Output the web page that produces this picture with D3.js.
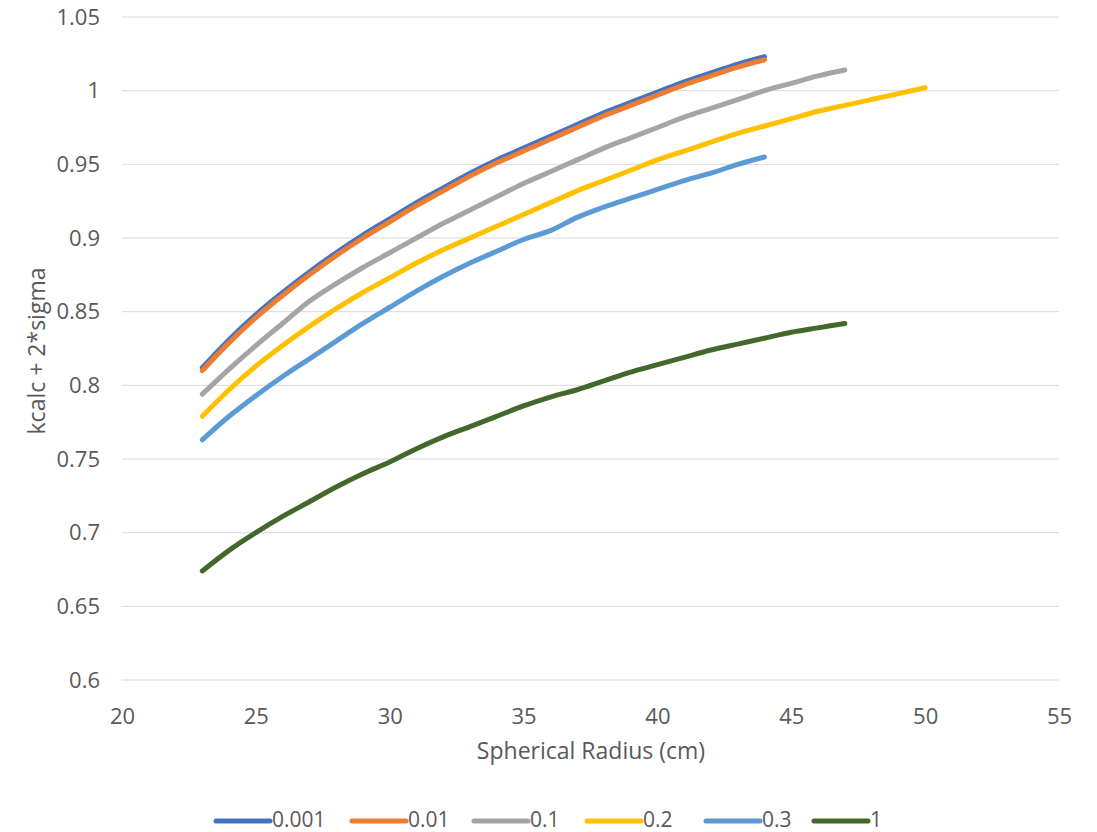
<!DOCTYPE html>
<html>
<head>
<meta charset="utf-8">
<script src="https://cdn.jsdelivr.net/npm/d3@7"></script>
<style>
  html, body { margin: 0; padding: 0; background: #fff; }
  svg { display: block; font-family: "Open Sans", Lato, sans-serif; }
</style>
</head>
<body>
<svg id="chart" width="1097" height="832"></svg>
<script>
// ---- data ----
const seriesNames = ["0.001", "0.01", "0.1", "0.2", "0.3", "1"];
const seriesColors = ["#4472C4", "#ED7D31", "#A5A5A5", "#FFC000", "#5B9BD5", "#43682B"];

const radius_0001 = [23,24,25,26,27,28,29,30,31,32,33,34,35,36,37,38,39,40,41,42,43,44];
const k_0001 = [0.812,0.831,0.848,0.863,0.877,0.890,0.902,0.913,0.924,0.934,0.944,0.953,0.961,0.969,0.977,0.985,0.992,0.999,1.006,1.012,1.018,1.023];

const radius_001 = [23,24,25,26,27,28,29,30,31,32,33,34,35,36,37,38,39,40,41,42,43,44];
const k_001 = [0.810,0.829,0.846,0.861,0.875,0.888,0.900,0.911,0.922,0.932,0.942,0.951,0.959,0.967,0.975,0.983,0.990,0.997,1.004,1.010,1.016,1.021];

const radius_01 = [23,24,25,26,27,28,29,30,31,32,33,34,35,36,37,38,39,40,41,42,43,44,45,46,47];
const k_01 = [0.794,0.811,0.827,0.842,0.857,0.869,0.880,0.890,0.900,0.910,0.919,0.928,0.937,0.945,0.953,0.961,0.968,0.975,0.982,0.988,0.994,1.000,1.005,1.010,1.014];

const radius_02 = [23,24,25,26,27,28,29,30,31,32,33,34,35,36,37,38,39,40,41,42,43,44,45,46,47,48,49,50];
const k_02 = [0.779,0.797,0.813,0.827,0.840,0.852,0.863,0.873,0.883,0.892,0.900,0.908,0.916,0.924,0.932,0.939,0.946,0.953,0.959,0.965,0.971,0.976,0.981,0.986,0.990,0.994,0.998,1.002];

const radius_03 = [23,24,25,26,27,28,29,30,31,32,33,34,35,36,37,38,39,40,41,42,43,44];
const k_03 = [0.763,0.779,0.793,0.806,0.818,0.830,0.842,0.853,0.864,0.874,0.883,0.891,0.899,0.905,0.914,0.921,0.927,0.933,0.939,0.944,0.950,0.955];

const radius_1 = [23,24,25,26,27,28,29,30,31,32,33,34,35,36,37,38,39,40,41,42,43,44,45,46,47];
const k_1 = [0.674,0.688,0.700,0.711,0.721,0.731,0.740,0.748,0.757,0.765,0.772,0.779,0.786,0.792,0.797,0.803,0.809,0.814,0.819,0.824,0.828,0.832,0.836,0.839,0.842];

const xTicks = [20,25,30,35,40,45,50,55];
const yTicks = [0.6,0.65,0.7,0.75,0.8,0.85,0.9,0.95,1,1.05];
const xTitle = "Spherical Radius (cm)";
const yTitle = "kcalc + 2*sigma";

const seriesX = [radius_0001, radius_001, radius_01, radius_02, radius_03, radius_1];
const seriesY = [k_0001, k_001, k_01, k_02, k_03, k_1];

(function () {
  // ---- layout ----
  const svg = d3.select("#chart");
  const pLeft = 122, pRight = 1059, pTop = 17, pBottom = 680;
  const textColor = "#595959";
  const fontFam = "'Open Sans', Lato, sans-serif";

  const x = d3.scaleLinear().domain([20, 55]).range([pLeft, pRight]);
  const y = d3.scaleLinear().domain([0.6, 1.05]).range([pBottom, pTop]);

  // gridlines
  svg.append("g").selectAll("line").data(yTicks).join("line")
    .attr("x1", pLeft).attr("x2", pRight)
    .attr("y1", d => y(d)).attr("y2", d => y(d))
    .attr("stroke", "#D9D9D9").attr("stroke-width", 1);

  // y tick labels
  const yAxis = d3.axisLeft(y).tickValues(yTicks).tickSize(0).tickPadding(22)
    .tickFormat(d => d3.format("~g")(d));
  const gy = svg.append("g").attr("transform", `translate(${pLeft},0)`).call(yAxis);
  gy.select(".domain").remove();
  gy.selectAll("text").attr("fill", textColor).style("font-size", "22px").style("font-family", fontFam);

  // x tick labels
  const xAxis = d3.axisBottom(x).tickValues(xTicks).tickSize(0).tickPadding(28)
    .tickFormat(d3.format("d"));
  const gx = svg.append("g").attr("transform", `translate(0,${pBottom})`).call(xAxis);
  gx.select(".domain").remove();
  gx.selectAll("text").attr("fill", textColor).style("font-size", "22px").style("font-family", fontFam);

  // axis titles
  svg.append("text").attr("x", 591).attr("y", 759)
    .attr("text-anchor", "middle").attr("fill", textColor)
    .style("font-size", "23px").style("font-family", fontFam).text(xTitle);
  svg.append("text")
    .attr("transform", `translate(45,351) rotate(-90)`)
    .attr("text-anchor", "middle").attr("fill", textColor)
    .style("font-size", "23px").style("font-family", fontFam).text(yTitle);

  // lines
  const line = d3.line().x(d => x(d[0])).y(d => y(d[1])).curve(d3.curveCatmullRom.alpha(0.5));
  seriesNames.forEach((name, i) => {
    const pts = seriesX[i].map((r, j) => [r, seriesY[i][j]]);
    svg.append("path").datum(pts)
      .attr("d", line)
      .attr("fill", "none")
      .attr("stroke", seriesColors[i])
      .attr("stroke-width", 5)
      .attr("stroke-linecap", "round")
      .attr("stroke-linejoin", "round");
  });

  // legend
  const legendStarts = [216, 352, 474, 587, 706, 814];
  const lg = svg.append("g");
  seriesNames.forEach((name, i) => {
    const g = lg.append("g").attr("transform", `translate(${legendStarts[i]},821)`);
    g.append("line").attr("x1", 0).attr("x2", 54).attr("y1", 0).attr("y2", 0)
      .attr("stroke", seriesColors[i]).attr("stroke-width", 5).attr("stroke-linecap", "round");
    g.append("text").attr("x", 56).attr("y", 6).attr("fill", textColor)
      .style("font-size", "21px").style("font-family", fontFam).text(name);
  });
})();
</script>
</body>
</html>
